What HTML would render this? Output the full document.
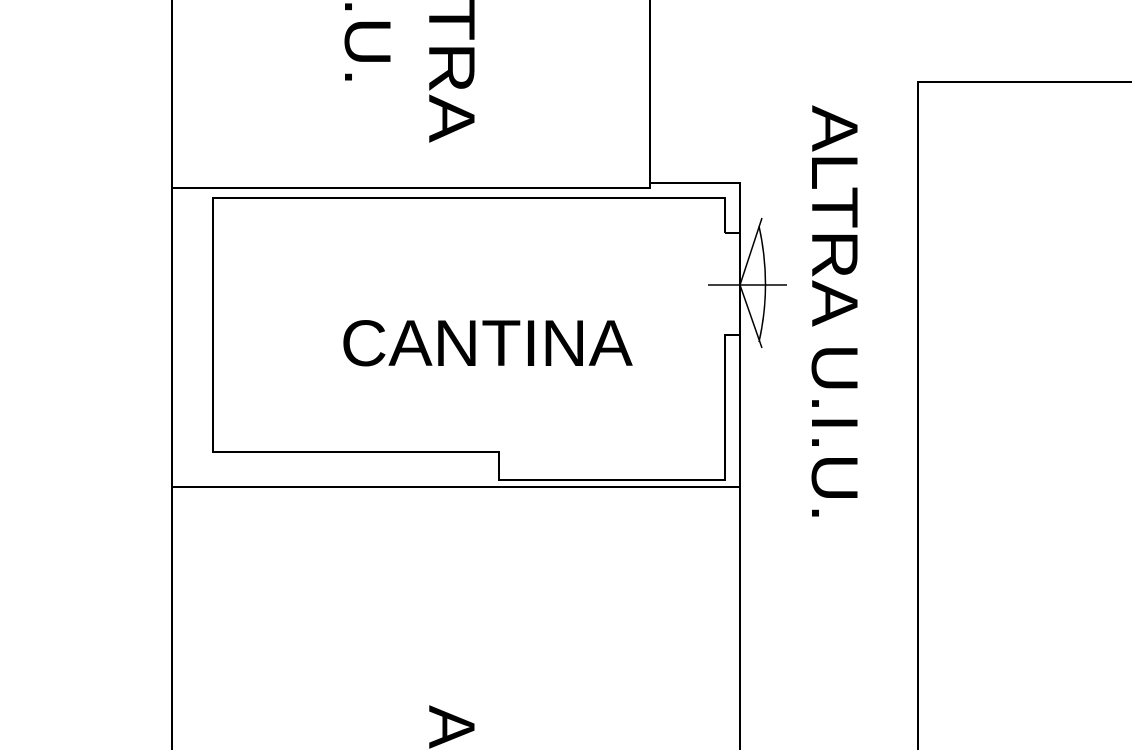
<!DOCTYPE html>
<html><head><meta charset="utf-8"><style>
html,body{margin:0;padding:0;background:#fff;width:1132px;height:750px;overflow:hidden;}
svg{display:block;}
text{font-family:"Liberation Sans",sans-serif;fill:#000;}
</style></head><body>
<svg width="1132" height="750" viewBox="0 0 1132 750" xmlns="http://www.w3.org/2000/svg" overflow="hidden">
<g fill="none" stroke="#000" stroke-width="2">
<line x1="172" y1="0" x2="172" y2="750"/>
<polyline points="650,0 650,188 172,188"/>
<polyline points="650,188 650,183 740,183 740,750"/>
<line x1="172" y1="487" x2="740" y2="487"/>
<polyline points="725,233 725,198 213,198 213,452 499,452 499,480 725,480 725,335 740,335"/>
<line x1="725" y1="233" x2="740" y2="233"/>
<line x1="708" y1="285" x2="787" y2="285" stroke-width="1.5"/>
<polyline points="762,218 740,285 762,348" stroke-width="1.5"/>
<path d="M759,226 Q772,285 759,342" stroke-width="1.5"/>
<polyline points="918,750 918,82 1132,82"/>
</g>
<text x="340" y="366" font-size="66" textLength="293" lengthAdjust="spacingAndGlyphs">CANTINA</text>
<text x="812" y="105" font-size="66" textLength="418" lengthAdjust="spacingAndGlyphs" transform="rotate(90 812 105)">ALTRA U.I.U.</text>
<text x="429" y="143" font-size="66" text-anchor="end" textLength="230" lengthAdjust="spacingAndGlyphs" transform="rotate(90 429 143)">ALTRA</text>
<text x="345" y="87" font-size="66" text-anchor="end" textLength="180" lengthAdjust="spacingAndGlyphs" transform="rotate(90 345 87)">U.I.U.</text>
<text x="429" y="705" font-size="66" transform="rotate(90 429 705)">A</text>
</svg>
</body></html>
